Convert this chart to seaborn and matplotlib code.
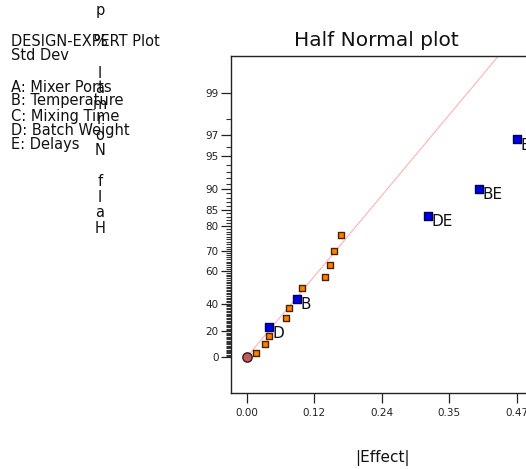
import matplotlib
matplotlib.use("Agg")
import matplotlib.pyplot as plt
import seaborn as sns
import numpy as np
import pandas as pd
from statistics import NormalDist

# ---------------- data ----------------
orange_effect = [0.0156, 0.0318, 0.0383, 0.0679, 0.0742, 0.0963, 0.1358, 0.1450, 0.1525, 0.1640]
orange_prob = [3.3, 10.0, 16.7, 30.0, 36.7, 50.0, 56.7, 63.3, 70.0, 76.7]

term_labels = ["D", "B", "DE", "BE", "E"]
term_effect = [0.0383, 0.0876, 0.315, 0.404, 0.470]
term_prob = [23.3, 43.3, 83.3, 90.0, 96.7]

zero_effect = [0.0]
zero_prob = [0.0]

fit_effect = [0.0, 0.50]
fit_slope = 6.71  # half-normal z per unit |effect|

x_ticks = [0.0, 0.1175, 0.235, 0.3525, 0.47]
x_tick_labels = ["0.00", "0.12", "0.24", "0.35", "0.47"]
y_major = [0, 20, 40, 60, 70, 80, 85, 90, 95, 97, 99]
y_minor = [p for p in range(1, 99) if p not in y_major]

legend_lines = ["DESIGN-EXPERT Plot", "Std Dev", "", "A: Mixer Ports", "B: Temperature",
                "C: Mixing Time", "D: Batch Weight", "E: Delays"]
ylabel_text = "Half Normal % probability"

# ---------------- helpers ----------------
nd = NormalDist()


def hz(p):
    return [nd.inv_cdf(0.5 + v / 200.0) for v in p]


df_or = pd.DataFrame({"effect": orange_effect, "z": hz(orange_prob)})
df_tm = pd.DataFrame({"effect": term_effect, "z": hz(term_prob), "lab": term_labels})
df_zero = pd.DataFrame({"effect": zero_effect, "z": hz(zero_prob)})
df_fit = pd.DataFrame({"effect": fit_effect, "z": [fit_slope * e for e in fit_effect]})

sns.set_theme(style="ticks")
plt.rcParams["font.family"] = ["DejaVu Sans"]

W, H = 526, 469
fig = plt.figure(figsize=(W / 100, H / 100), dpi=100)
ax_left, ax_right, ax_top, ax_bottom = 231, 560, 56, 393
ax = fig.add_axes([ax_left / W, (H - ax_bottom) / H,
                   (ax_right - ax_left) / W, (ax_bottom - ax_top) / H])

sns.lineplot(data=df_fit, x="effect", y="z", ax=ax, color="#ffa8a8", lw=0.7)
sns.scatterplot(data=df_zero, x="effect", y="z", ax=ax, marker="o", s=45,
                color="#c05c5c", edgecolor="#3a1a1a", linewidth=1.0, zorder=5)
sns.scatterplot(data=df_or, x="effect", y="z", ax=ax, marker="s", s=24,
                color="#ff8000", edgecolor="#4a2400", linewidth=1.0, zorder=4)
sns.scatterplot(data=df_tm, x="effect", y="z", ax=ax, marker="s", s=26,
                color="#0000e6", edgecolor="#000050", linewidth=1.0, zorder=4)
for _, r in df_tm.iterrows():
    ax.annotate(r["lab"], (r["effect"], r["z"]), xytext=(2.8, -4.5),
                textcoords="offset points", ha="left", va="center",
                fontsize=11, color="#111111", zorder=6)

# scales: pixel mapping x: 574.5 px / unit, z: 102.5 px / unit
xpx, zpx = 574.5, 102.5
x0_px, z0_px = 246.7, 357.3
ax.set_xlim((ax_left - x0_px) / xpx, (ax_right - x0_px) / xpx)
ax.set_ylim((z0_px - ax_bottom) / zpx, (z0_px - ax_top) / zpx)

ax.set_xticks(x_ticks)
ax.set_xticklabels(x_tick_labels)
ax.set_yticks(hz(y_major))
ax.set_yticklabels([str(v) for v in y_major])
ax.set_yticks(hz(y_minor), minor=True)
ax.tick_params(axis="both", which="major", length=7, width=0.9, color="#222222",
               labelsize=7.5, labelcolor="#222222")
ax.tick_params(axis="x", which="major", pad=4)
ax.tick_params(axis="y", which="major", pad=2)
ax.tick_params(axis="y", which="minor", length=3.6, width=0.8, color="#333333")
ax.set_xlabel("")
ax.set_ylabel("")
for s in ["left", "bottom", "top", "right"]:
    ax.spines[s].set_color("#222222")
    ax.spines[s].set_linewidth(1.0)
ax.spines["right"].set_visible(False)

# title and axis label
fig.text(376 / W, 1 - 41 / H, "Half Normal plot", ha="center", va="center",
         fontsize=14.5, color="#111111")
fig.text(382 / W, 1 - 458 / H, "|Effect|", ha="center", va="center",
         fontsize=11, color="#111111")

# legend block at top-left
leg_y = [42, 55, 70, 87, 101, 116, 130, 145]
for t, yy in zip(legend_lines, leg_y):
    if t:
        fig.text(11 / W, 1 - yy / H, t, ha="left", va="center", fontsize=10.5,
                 color="#111111")

# vertical stacked y-axis label (upright characters, reading upward from the bottom)
step = 15.5
for k, ch in enumerate(ylabel_text):
    yy = 228 - k * step
    if ch.strip() and yy > -8:
        fig.text(100 / W, 1 - yy / H, ch, ha="center", va="center",
                 fontsize=10.5, color="#111111")

fig.savefig("out.png", dpi=100)
